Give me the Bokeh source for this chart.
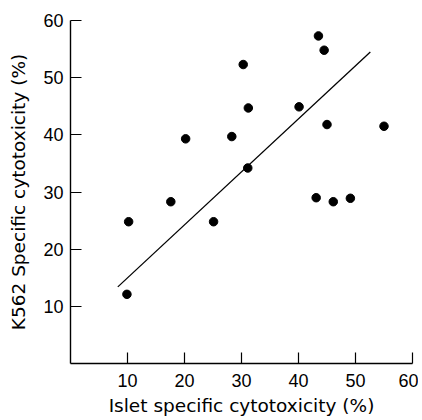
from bokeh.plotting import figure
from bokeh.models import Range1d, FixedTicker
from bokeh.embed import file_html
from bokeh.resources import INLINE

# Data
islet = [10.2, 9.9, 17.6, 20.2, 25.1, 28.3, 30.3, 31.2, 31.1, 40.1, 43.5, 44.5, 45.0, 43.1, 46.1, 49.1, 55.0]
k562 = [24.8, 12.1, 28.3, 39.3, 24.8, 39.7, 52.3, 44.7, 34.2, 44.9, 57.3, 54.8, 41.8, 29.0, 28.3, 28.9, 41.5]
fit_x = [8.3, 52.6]
fit_y = [13.4, 54.5]
ticks = [10, 20, 30, 40, 50, 60]

FONT = "Liberation Sans"
LFONT = "DejaVu Sans"

p = figure(width=418, height=418, output_backend="svg", toolbar_location=None,
           x_range=Range1d(0, 60), y_range=Range1d(0, 60),
           min_border_left=70, min_border_right=6, min_border_top=20, min_border_bottom=54)
p.outline_line_color = None
p.grid.visible = False
p.background_fill_color = "white"
p.border_fill_color = "white"

p.line(fit_x, fit_y, line_color="black", line_width=1.3)
p.scatter(islet, k562, size=8.5, fill_color="black", line_color="black")

for ax in (p.xaxis[0], p.yaxis[0]):
    ax.ticker = FixedTicker(ticks=ticks)
    ax.minor_tick_line_color = None
    ax.major_tick_in = 11
    ax.major_tick_out = 0
    ax.axis_line_width = 1.4
    ax.major_tick_line_width = 1.2
    ax.axis_line_color = "black"
    ax.major_tick_line_color = "black"
    ax.major_label_text_font = FONT
    ax.major_label_text_font_size = "18px"
    ax.major_label_text_color = "black"
    ax.axis_label_text_font = LFONT
    ax.axis_label_text_font_style = "normal"
    ax.axis_label_text_color = "black"

p.xaxis.axis_label = "Islet specific cytotoxicity (%)"
p.yaxis.axis_label = "K562 Specific cytotoxicity (%)"
p.xaxis.axis_label_text_font_size = "18.5px"
p.yaxis.axis_label_text_font_size = "18.5px"
p.xaxis.major_label_standoff = 10
p.yaxis.major_label_standoff = 7
p.xaxis.axis_label_standoff = 5
p.yaxis.axis_label_standoff = 11

open("out.html", "w").write(file_html(p, INLINE))
